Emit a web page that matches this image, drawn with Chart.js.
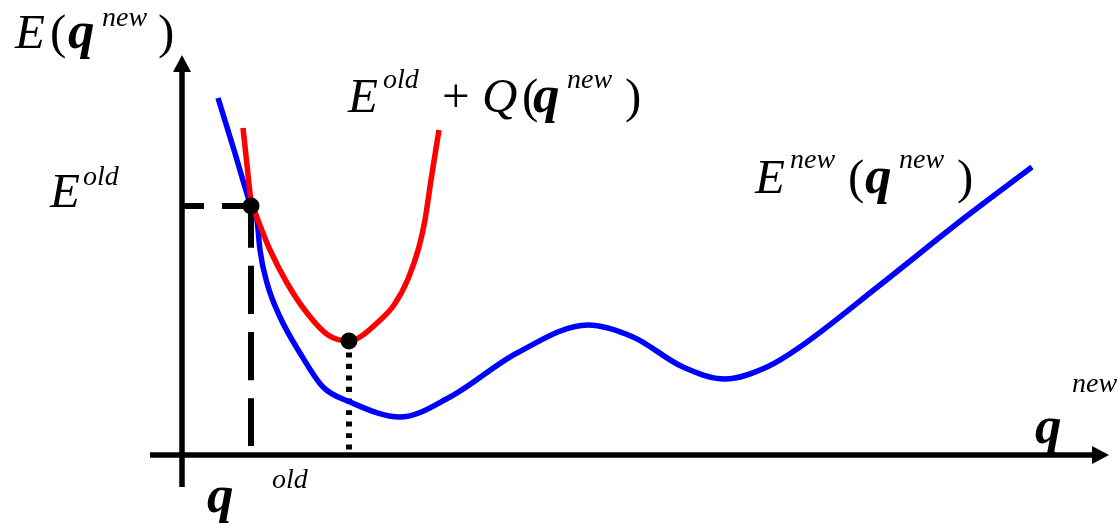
<!DOCTYPE html>
<html>
<head>
<meta charset="utf-8">
<title>E(q)</title>
<script src="https://cdn.jsdelivr.net/npm/chart.js@4/dist/chart.umd.min.js"></script>
<style>
  html, body { margin: 0; padding: 0; background: #fff; }
  canvas { display: block; }
</style>
</head>
<body>
<canvas class="energy-chart" width="1118" height="525"></canvas>
<script>
// true energy E_new(q) along the coordinate
const blueQ = [0.36, 0.52, 0.69, 0.75, 0.78, 0.85, 0.98, 1.18, 1.41, 1.68, 2.18, 2.68, 3.35, 4.06, 4.51, 5.01, 5.43, 5.85, 6.18, 6.98, 7.81, 8.50];
const blueE = [3.57, 3.05, 2.49, 2.35, 2.05, 1.72, 1.38, 1.02, 0.68, 0.53, 0.38, 0.58, 1.02, 1.30, 1.18, 0.88, 0.76, 0.88, 1.08, 1.70, 2.36, 2.88];

// local quadratic model E_old + Q(q)
const redQ = [0.61, 0.65, 0.69, 0.74, 0.81, 0.88, 1.05, 1.25, 1.46, 1.67, 1.78, 1.95, 2.12, 2.26, 2.37, 2.43, 2.49, 2.57];
const redE = [3.27, 2.9, 2.55, 2.4, 2.22, 2.05, 1.72, 1.42, 1.2, 1.14, 1.18, 1.32, 1.5, 1.76, 2.08, 2.35, 2.75, 3.25];

// q_old / E_old and the model minimum
const markQ = [0.69, 1.67];
const markE = [2.49, 1.14];

// axis extents (arrow tips)
const qRange = [-0.32, 9.27];
const eRange = [-0.32, 4.0];

const serif = '"Liberation Serif", "Times New Roman", serif';
const fonts = {
  it: "italic 49px " + serif,
  rm: "49px " + serif,
  bf: "italic bold 53px " + serif,
  sup: "italic 28px " + serif,
};

// text runs: [text, q, E, font]
const labels = [
  ["E", -1.67, 4.07, "it"],
  ["(", -1.32, 4.07, "rm"],
  ["q", -1.14, 4.07, "bf"],
  ["new", -0.8, 4.29, "sup"],
  [")", -0.24, 4.07, "rm"],

  ["E", 1.66, 3.43, "it"],
  ["old", 2.01, 3.67, "sup"],
  ["+", 2.6, 3.43, "rm"],
  ["Q", 3.0, 3.43, "it"],
  ["(", 3.4, 3.43, "rm"],
  ["q", 3.51, 3.43, "bf"],
  ["new", 3.85, 3.67, "sup"],
  [")", 4.43, 3.43, "rm"],

  ["E", 5.73, 2.62, "it"],
  ["new", 6.08, 2.87, "sup"],
  ["(", 6.66, 2.62, "rm"],
  ["q", 6.83, 2.62, "bf"],
  ["new", 7.17, 2.87, "sup"],
  [")", 7.75, 2.62, "rm"],

  ["E", -1.32, 2.48, "it"],
  ["old", -0.99, 2.7, "sup"],

  ["q", 0.25, -0.57, "bf"],
  ["old", 0.9, -0.33, "sup"],

  ["q", 8.53, 0.12, "bf"],
  ["new", 8.9, 0.63, "sup"],
];

const toPoints = (xs, ys) => xs.map((x, i) => ({ x: x, y: ys[i] }));

const axesPlugin = {
  id: "arrowAxes",
  beforeDatasetsDraw(chart) {
    const c = chart.ctx;
    const sx = chart.scales.x;
    const sy = chart.scales.y;
    const x0 = sx.getPixelForValue(0);
    const y0 = sy.getPixelForValue(0);
    const head = 17;
    const half = 9;

    c.save();
    c.strokeStyle = "#000";
    c.fillStyle = "#000";
    c.lineWidth = 5.5;

    // horizontal axis
    const xEnd = sx.getPixelForValue(qRange[1]);
    c.beginPath();
    c.moveTo(sx.getPixelForValue(qRange[0]), y0);
    c.lineTo(xEnd - head + 1, y0);
    c.stroke();
    c.beginPath();
    c.moveTo(xEnd, y0);
    c.lineTo(xEnd - head, y0 - half);
    c.lineTo(xEnd - head, y0 + half);
    c.closePath();
    c.fill();

    // vertical axis
    const yEnd = sy.getPixelForValue(eRange[1]);
    c.beginPath();
    c.moveTo(x0, sy.getPixelForValue(eRange[0]));
    c.lineTo(x0, yEnd + head - 1);
    c.stroke();
    c.beginPath();
    c.moveTo(x0, yEnd);
    c.lineTo(x0 - half, yEnd + head);
    c.lineTo(x0 + half, yEnd + head);
    c.closePath();
    c.fill();
    c.restore();
  },
};

const textPlugin = {
  id: "mathLabels",
  afterDatasetsDraw(chart) {
    const c = chart.ctx;
    const sx = chart.scales.x;
    const sy = chart.scales.y;
    c.save();
    c.fillStyle = "#000";
    c.textAlign = "left";
    c.textBaseline = "alphabetic";
    labels.forEach(([txt, q, e, f]) => {
      c.font = fonts[f];
      c.fillText(txt, sx.getPixelForValue(q), sy.getPixelForValue(e));
    });
    c.restore();
  },
};

const line = (data, color, width, extra) =>
  Object.assign(
    {
      data: data,
      showLine: true,
      fill: false,
      pointRadius: 0,
      borderColor: color,
      borderWidth: width,
      cubicInterpolationMode: "monotone",
    },
    extra || {}
  );

const datasets = [
  {
    data: toPoints(markQ, markE),
    pointRadius: 8.5,
    pointBackgroundColor: "#000",
    pointBorderWidth: 0,
    showLine: false,
  },
  line(toPoints(redQ, redE), "#ff0000", 5.5),
  line(toPoints(blueQ, blueE), "#0000ff", 5.5),
  // dotted drop from the model minimum
  line(toPoints([markQ[1], markQ[1]], [markE[1], 0]), "#000", 6, { borderDash: [5, 6.5] }),
  // dashed guides to q_old and E_old
  line(toPoints([0, markQ[0]], [markE[0], markE[0]]), "#000", 6, { borderDash: [22, 18] }),
  line(toPoints([markQ[0], markQ[0]], [markE[0], 0.08]), "#000", 6, { borderDash: [48, 18], borderDashOffset: 6 }),
];

const ctx = document.querySelector(".energy-chart").getContext("2d");

new Chart(ctx, {
  type: "scatter",
  data: { datasets: datasets },
  options: {
    responsive: false,
    animation: false,
    events: [],
    layout: { padding: 0, autoPadding: false },
    plugins: { legend: { display: false }, tooltip: { enabled: false } },
    scales: {
      x: { type: "linear", display: false, min: -1.82, max: 9.36 },
      y: { type: "linear", display: false, min: -0.7, max: 4.55 },
    },
  },
  plugins: [axesPlugin, textPlugin],
});
</script>
</body>
</html>
